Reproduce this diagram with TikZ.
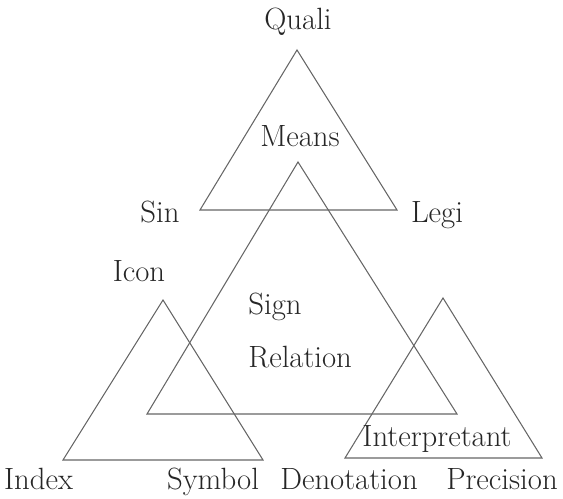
\documentclass[tikz,border=0pt]{standalone}
\usepackage{tikz}
\usetikzlibrary{positioning}

\begin{document}
\begin{tikzpicture}[
    every node/.style = {font=\fontsize{17.5}{21}\selectfont, text=black!85,
                         inner sep=0pt, anchor=base},
    tri/.style        = {draw=black!60, line width=0.6pt}
]
\useasboundingbox (0,0) rectangle (11.26,9.96);

% Means triangle (top)
\coordinate (qTop)   at (5.94,8.96);
\coordinate (qLeft)  at (4.00,5.76);
\coordinate (qRight) at (7.94,5.76);
\draw[tri] (qTop) -- (qLeft) -- (qRight) -- cycle;

% Sign relation triangle (centre)
\coordinate (sTop)   at (5.96,6.72);
\coordinate (sLeft)  at (2.94,1.68);
\coordinate (sRight) at (9.14,1.68);
\draw[tri] (sTop) -- (sLeft) -- (sRight) -- cycle;

% Object triangle (left)
\coordinate (oTop)   at (3.26,3.96);
\coordinate (oLeft)  at (1.26,0.76);
\coordinate (oRight) at (5.26,0.76);
\draw[tri] (oTop) -- (oLeft) -- (oRight) -- cycle;

% Interpretant triangle (right)
\coordinate (iTop)   at (8.86,4.00);
\coordinate (iLeft)  at (6.90,0.80);
\coordinate (iRight) at (10.84,0.80);
\draw[tri] (iTop) -- (iLeft) -- (iRight) -- cycle;

% Labels
\node (quali)  at (5.96,9.36) {Quali};
\node (means)  at (6.00,7.02) {Means};
\node (sin)    at (3.20,5.50) {Sin};
\node (legi)   at (8.74,5.50) {Legi};
\node (icon)   at (2.78,4.32) {Icon};
\node[anchor=base west] (sign)     at (4.96,3.66) {Sign};
\node[anchor=base west] (relation) at (4.96,2.60) {Relation};
\node (interp) at (8.74,1.02) {Interpretant};
\node (index)  at (0.77,0.18) {Index};
\node (symbol) at (4.26,0.18) {Symbol};
\node (denot)  at (6.98,0.18) {Denotation};
\node (precis) at (10.04,0.18) {Precision};

\end{tikzpicture}
\end{document}
